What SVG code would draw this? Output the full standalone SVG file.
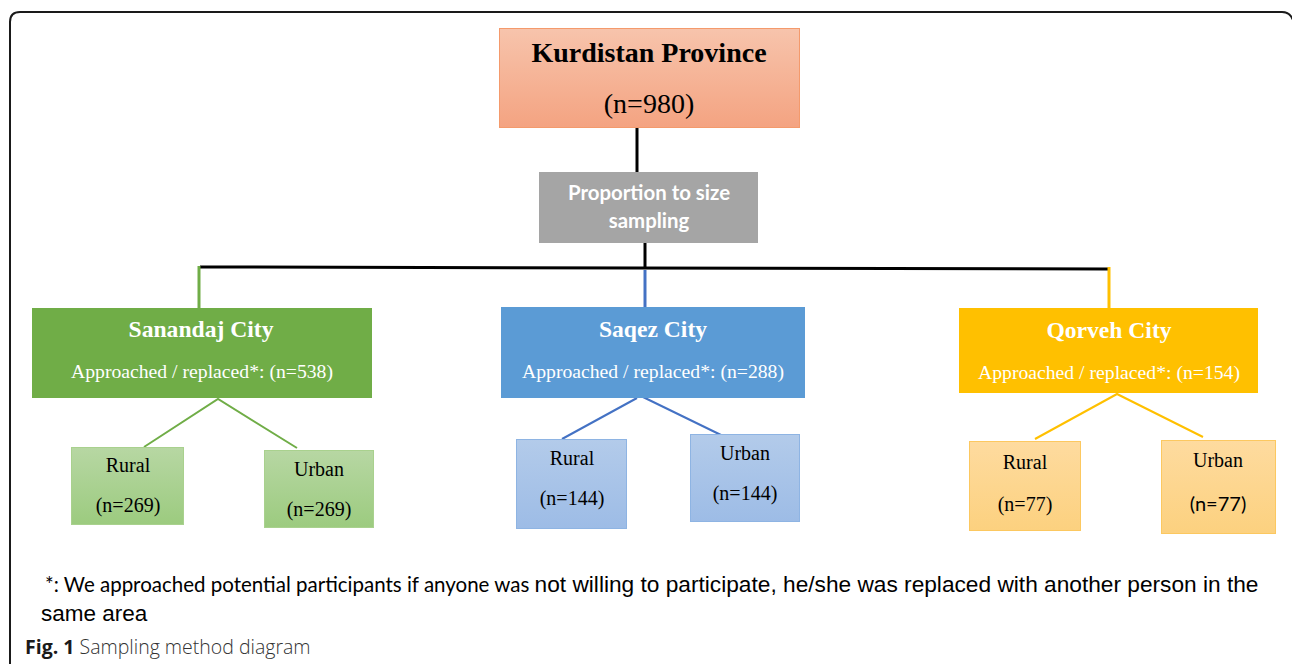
<svg xmlns="http://www.w3.org/2000/svg" width="1292" height="664" viewBox="0 0 1292 664">
<style>
.serif{font-family:"Liberation Serif","Times New Roman",serif}
.calibri{font-family:Lato,"Open Sans",sans-serif}
.arial{font-family:"Liberation Sans",Arial,sans-serif}
.white{fill:#ffffff}
.black{fill:#000000}
.conn{fill:none;stroke-width:2}
</style>
<defs>
<linearGradient id="gKurd" x1="0" y1="0" x2="0" y2="1"><stop offset="0" stop-color="#f7c4ac"/><stop offset="1" stop-color="#f4a381"/></linearGradient>
<linearGradient id="gGreen" x1="0" y1="0" x2="0" y2="1"><stop offset="0" stop-color="#b7d7a3"/><stop offset="1" stop-color="#9ccb7f"/></linearGradient>
<linearGradient id="gBlue" x1="0" y1="0" x2="0" y2="1"><stop offset="0" stop-color="#b3cbea"/><stop offset="1" stop-color="#9dbce6"/></linearGradient>
<linearGradient id="gYellow" x1="0" y1="0" x2="0" y2="1"><stop offset="0" stop-color="#fedb9f"/><stop offset="1" stop-color="#fcd17f"/></linearGradient>
</defs>
<rect width="1292" height="664" fill="#ffffff"/>
<path d="M10,664 V22 Q10,12 20,12 H1282 Q1290,12 1293,20" fill="none" stroke="#1a1a1a" stroke-width="2"/>

<g id="connectors">
<line x1="637" y1="127" x2="637" y2="172" stroke="#000" stroke-width="3"/>
<line x1="645" y1="243" x2="645" y2="268" stroke="#000" stroke-width="3"/>
<line x1="200" y1="267" x2="1108" y2="269" stroke="#000" stroke-width="3"/>
<line x1="199" y1="266" x2="199" y2="308" stroke="#70ad47" stroke-width="3"/>
<line x1="645" y1="270" x2="645" y2="307" stroke="#4472c4" stroke-width="3"/>
<line x1="1109" y1="267" x2="1109" y2="308" stroke="#ffc000" stroke-width="3"/>
<path class="conn" stroke="#70ad47" d="M144,447 L218,399 L297,448"/>
<path class="conn" stroke="#4472c4" d="M562,439 L637,398 M643,397 L721,435"/>
<path class="conn" stroke="#ffc000" d="M1035,439 L1117,394 L1203,437"/>
</g>

<g id="kurdistan">
<rect x="499.5" y="28.5" width="300" height="99" fill="url(#gKurd)" stroke="#f49a6c" stroke-width="1"/>
<text class="serif black" x="649" y="62" font-size="28" font-weight="bold" text-anchor="middle">Kurdistan Province</text>
<text class="serif black" x="649" y="113" font-size="28" text-anchor="middle">(n=980)</text>
</g>

<g id="proportion">
<rect x="539" y="172" width="219" height="71" fill="#a5a5a5"/>
<text class="calibri white" x="649" y="200" font-size="20.4" font-weight="bold" text-anchor="middle">Proportion to size</text>
<text class="calibri white" x="649" y="228" font-size="20.4" font-weight="bold" text-anchor="middle">sampling</text>
</g>

<g id="sanandaj">
<rect x="32" y="308" width="340" height="90" fill="#70ad47"/>
<text class="serif white" x="201" y="337" font-size="23.6" font-weight="bold" text-anchor="middle">Sanandaj City</text>
<text class="serif white" x="202" y="378" font-size="19.7" text-anchor="middle">Approached / replaced*: (n=538)</text>
</g>

<g id="saqez">
<rect x="501" y="307" width="304" height="91" fill="#5b9bd5"/>
<text class="serif white" x="653" y="337" font-size="23.6" font-weight="bold" text-anchor="middle">Saqez City</text>
<text class="serif white" x="653" y="378" font-size="19.7" text-anchor="middle">Approached / replaced*: (n=288)</text>
</g>

<g id="qorveh">
<rect x="959" y="308" width="299" height="85" fill="#ffc000"/>
<text class="serif white" x="1109" y="338" font-size="23.6" font-weight="bold" text-anchor="middle">Qorveh City</text>
<text class="serif white" x="1109" y="379" font-size="19.7" text-anchor="middle">Approached / replaced*: (n=154)</text>
</g>

<g id="sanandaj-rural">
<rect x="71.5" y="447.5" width="112" height="77" fill="url(#gGreen)" stroke="#a9d18e" stroke-width="1"/>
<text class="serif black" x="128" y="472" font-size="20" text-anchor="middle">Rural</text>
<text class="serif black" x="128" y="512" font-size="20" text-anchor="middle">(n=269)</text>
</g>
<g id="sanandaj-urban">
<rect x="264.5" y="450.5" width="109" height="77" fill="url(#gGreen)" stroke="#a9d18e" stroke-width="1"/>
<text class="serif black" x="319" y="476" font-size="20" text-anchor="middle">Urban</text>
<text class="serif black" x="319" y="516" font-size="20" text-anchor="middle">(n=269)</text>
</g>

<g id="saqez-rural">
<rect x="516.5" y="439.5" width="110" height="89" fill="url(#gBlue)" stroke="#8eb4e3" stroke-width="1"/>
<text class="serif black" x="572" y="465" font-size="20" text-anchor="middle">Rural</text>
<text class="serif black" x="572" y="505" font-size="20" text-anchor="middle">(n=144)</text>
</g>
<g id="saqez-urban">
<rect x="690.5" y="434.5" width="109" height="87" fill="url(#gBlue)" stroke="#8eb4e3" stroke-width="1"/>
<text class="serif black" x="745" y="460" font-size="20" text-anchor="middle">Urban</text>
<text class="serif black" x="745" y="500" font-size="20" text-anchor="middle">(n=144)</text>
</g>

<g id="qorveh-rural">
<rect x="969.5" y="441.5" width="111" height="89" fill="url(#gYellow)" stroke="#fcc860" stroke-width="1"/>
<text class="serif black" x="1025" y="469" font-size="20" text-anchor="middle">Rural</text>
<text class="serif black" x="1025" y="511" font-size="20" text-anchor="middle">(n=77)</text>
</g>
<g id="qorveh-urban">
<rect x="1161.5" y="440.5" width="114" height="93" fill="url(#gYellow)" stroke="#fcc860" stroke-width="1"/>
<text class="serif black" x="1218" y="467" font-size="20" text-anchor="middle">Urban</text>
<text class="calibri black" x="1218" y="511" font-size="20" text-anchor="middle">(n=77)</text>
</g>

<g id="footnote">
<text x="45" y="592" font-size="22.7"><tspan class="calibri black" font-size="20.5">*: We approached potential participants if anyone was </tspan><tspan class="arial black">not willing to participate, he/she was replaced with another person in the</tspan></text>
<text class="arial black" x="41" y="621" font-size="22.5">same area</text>
</g>

<g id="caption">
<text x="25" y="654" font-size="19.5" font-family="'Open Sans',sans-serif" fill="#333333"><tspan font-weight="bold" fill="#1a1a1a">Fig. 1</tspan><tspan font-weight="300"> Sampling method diagram</tspan></text>
</g>
</svg>
